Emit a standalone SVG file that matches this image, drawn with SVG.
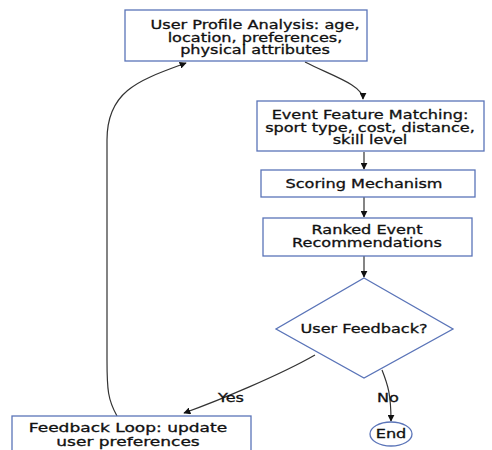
<svg xmlns="http://www.w3.org/2000/svg" width="492" height="450" viewBox="0 0 492 450">
<style>
.box{fill:#ffffff;stroke:#5a74b8;stroke-width:1.3}
.t{font-family:"DejaVu Sans",Verdana,sans-serif;font-size:12.5px;fill:#111;stroke:#111;stroke-width:0.3;text-anchor:middle}
.s{font-size:12px}
.c{fill:none;stroke:#333;stroke-width:1.2}
</style>
<defs>
<marker id="ah" viewBox="0 0 10 10" refX="9" refY="5" markerWidth="7" markerHeight="7" orient="auto-start-reverse" markerUnits="userSpaceOnUse">
<path d="M0,0 L10,5 L0,10 z" fill="#111"/>
</marker>
</defs>
<rect width="492" height="450" fill="#ffffff"/>
<g id="connectors">
<path class="c" d="M305,62 C330,75 363,85 363,99" marker-end="url(#ah)"/>
<path class="c" d="M364,152 L364,169" marker-end="url(#ah)"/>
<path class="c" d="M364,197 L364,217" marker-end="url(#ah)"/>
<path class="c" d="M364,256 L364,277" marker-end="url(#ah)"/>
<path class="c" d="M315,355 C280,375 220,400 184,413" marker-end="url(#ah)"/>
<path class="c" d="M382,370 C388,385 391,395 391,421" marker-end="url(#ah)"/>
<path class="c" d="M117,416 C108,400 107,390 107,360 L107,140 C107,90 140,80 186,63" marker-end="url(#ah)"/>
<text class="t" transform="translate(231,402) scale(1.29,1)">Yes</text>
<text class="t" transform="translate(388,402) scale(1.29,1)">No</text>
</g>
<g id="n1">
<rect class="box" x="125" y="10" width="242" height="51"/>
<text class="t" transform="translate(255,29) scale(1.29,1)">User Profile Analysis: age,</text>
<text class="t" transform="translate(255,41.5) scale(1.29,1)">location, preferences,</text>
<text class="t" transform="translate(255,54) scale(1.29,1)">physical attributes</text>
</g>
<g id="n2">
<rect class="box" x="257" y="101" width="227" height="50"/>
<text class="t" transform="translate(370,119) scale(1.29,1)">Event Feature Matching:</text>
<text class="t" transform="translate(370,131.5) scale(1.29,1)">sport type, cost, distance,</text>
<text class="t" transform="translate(370,144) scale(1.29,1)">skill level</text>
</g>
<g id="n3">
<rect class="box" x="261" y="170" width="214" height="27"/>
<text class="t" transform="translate(364,188) scale(1.29,1)">Scoring Mechanism</text>
</g>
<g id="n4">
<rect class="box" x="263" y="218" width="209" height="38"/>
<text class="t" transform="translate(367,234) scale(1.29,1)">Ranked Event</text>
<text class="t" transform="translate(367,246.5) scale(1.29,1)">Recommendations</text>
</g>
<g id="n5">
<polygon class="box" points="364,278 453,329 364,378 276,329"/>
<text class="t" transform="translate(364,333) scale(1.29,1)">User Feedback?</text>
</g>
<g id="n6">
<rect class="box" x="12" y="416" width="239" height="40"/>
<text class="t s" transform="translate(128,432) scale(1.42,1)">Feedback Loop: update</text>
<text class="t s" transform="translate(128,446) scale(1.42,1)">user preferences</text>
</g>
<g id="n7">
<ellipse class="box" cx="391" cy="434" rx="21" ry="12"/>
<text class="t" transform="translate(391,438) scale(1.29,1)">End</text>
</g>
</svg>
